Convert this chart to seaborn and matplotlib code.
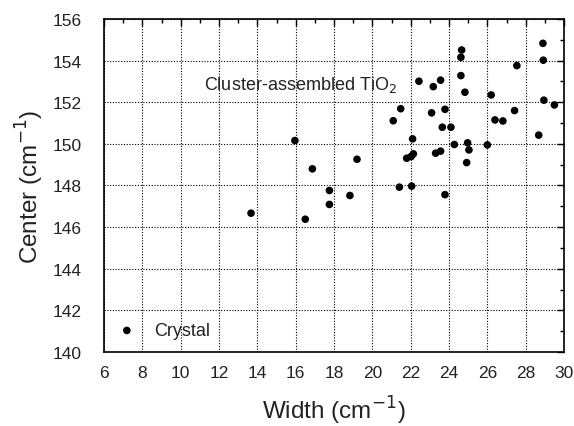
import numpy as np
import pandas as pd
import matplotlib
matplotlib.use("Agg")
import matplotlib.pyplot as plt
import seaborn as sns
from matplotlib.ticker import MultipleLocator

# Raman Eg peak: width vs. center, cluster-assembled TiO2
width = [13.67, 15.96, 16.50, 16.87, 17.76, 17.76, 18.83, 19.20, 21.09, 21.48,
         21.41, 22.05, 22.10, 21.79, 22.02, 22.14, 22.43, 23.18, 23.56, 23.09,
         23.79, 23.65, 24.10, 23.30, 23.56, 23.79, 24.66, 24.62, 24.62, 24.83,
         24.28, 24.97, 25.04, 24.92, 26.00, 26.20, 26.40, 26.81, 27.42, 27.54,
         28.68, 28.90, 28.92, 28.95, 29.50]
center = [146.67, 150.16, 146.38, 148.80, 147.76, 147.09, 147.52, 149.26, 151.11, 151.69,
          147.92, 147.97, 150.24, 149.31, 149.39, 149.52, 153.01, 152.75, 153.06, 151.49,
          151.66, 150.80, 150.80, 149.55, 149.65, 147.56, 154.51, 154.16, 153.28, 152.48,
          149.97, 150.05, 149.71, 149.10, 149.95, 152.35, 151.15, 151.10, 151.60, 153.76,
          150.42, 154.83, 154.02, 152.10, 151.87]

df = pd.DataFrame({"Width": width, "Center": center})

sns.set_style("white")
plt.rcParams['font.family'] = ['Liberation Sans', 'DejaVu Sans']

fig = plt.figure(figsize=(5.74, 4.27), dpi=100)
ax = fig.add_axes([0.1812, 0.1733, 0.8014, 0.7799])

sns.scatterplot(data=df, x="Width", y="Center", ax=ax, color='black',
                s=30, edgecolor='none', label='Crystal')

ax.set_xlim(6, 30)
ax.set_ylim(140, 156)
ax.xaxis.set_major_locator(MultipleLocator(2))
ax.xaxis.set_minor_locator(MultipleLocator(1))
ax.yaxis.set_major_locator(MultipleLocator(2))
ax.yaxis.set_minor_locator(MultipleLocator(1))

ax.grid(True, which='major', color='black', linestyle=(0, (1, 1.5)), linewidth=0.8)
for s in ax.spines.values():
    s.set_color('black')
    s.set_linewidth(1.2)

ax.tick_params(which='both', top=True, right=True, color='black', labelsize=12.5,
               labelcolor='#222222', width=1)
ax.tick_params(which='major', direction='out', length=5)
ax.tick_params(which='minor', direction='out', length=3)
ax.tick_params(axis='x', which='major', pad=4)
ax.tick_params(axis='y', which='major', pad=11)
for t in ax.xaxis.get_ticklines(minor=False)[1::2] + ax.xaxis.get_ticklines(minor=True)[1::2]:
    t.set_marker(3)
for t in ax.yaxis.get_ticklines(minor=False)[1::2] + ax.yaxis.get_ticklines(minor=True)[1::2]:
    t.set_marker(0)

ax.set_xlabel("Width (cm$^{-1}$)", fontsize=17.5, color='#222222', labelpad=10.5)
ax.set_ylabel("Center (cm$^{-1}$)", fontsize=17.5, color='#222222', labelpad=5)

ax.text(11.22, 152.88, "Cluster-assembled TiO$_2$", fontsize=13, color='#222222',
        va='center', ha='left')

ax.legend(loc='center left', bbox_to_anchor=(0.030, 0.064), frameon=False,
          fontsize=13, handlelength=1.0, handletextpad=1.0, borderpad=0,
          borderaxespad=0, labelcolor='#222222')

fig.savefig("out.png", dpi=100)
